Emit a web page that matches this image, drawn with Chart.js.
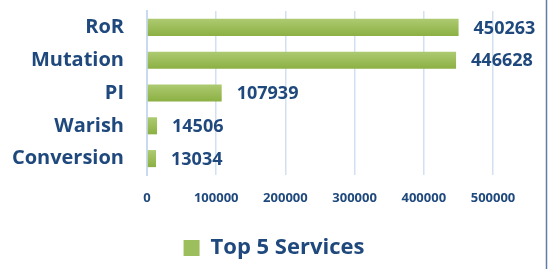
<!DOCTYPE html>
<html>
<head>
<meta charset="utf-8">
<script src="https://cdn.jsdelivr.net/npm/chart.js@4/dist/chart.umd.min.js"></script>
<style>
  html, body { margin: 0; padding: 0; background: #fff; }
  #wrap { position: relative; width: 548px; height: 269px; }
</style>
</head>
<body>
<div id="wrap"><canvas id="myChart" width="548" height="269"></canvas></div>
<script>
  // data
  const services = ['RoR', 'Mutation', 'PI', 'Warish', 'Conversion'];
  const counts = [450263, 446628, 107939, 14506, 13034];
  const seriesName = 'Top 5 Services';
  const axisMax = 500000;
  const axisStep = 100000;

  const navy = '#1F497D';
  const fontName = "'Open Sans', sans-serif";

  function barFill(context) {
    const chart = context.chart;
    if (!chart.chartArea || !chart.scales.y) {
      return '#9BBB59';
    }
    let c = chart.scales.y.getPixelForValue(context.dataIndex);
    let g = chart.ctx.createLinearGradient(0, c - 9, 0, c + 9);
    g.addColorStop(0, '#AECB72');
    g.addColorStop(1, '#8BAF42');
    return g;
  }

  // value labels at the end of each bar
  const valueLabels = {
    id: 'valueLabels',
    afterDatasetsDraw(chart) {
      let ctx = chart.ctx;
      let meta = chart.getDatasetMeta(0);
      ctx.save();
      ctx.font = 'bold 18px ' + fontName;
      ctx.fillStyle = navy;
      ctx.textAlign = 'left';
      ctx.textBaseline = 'middle';
      meta.data.forEach(function(bar, i) {
        ctx.fillText(String(counts[i]), bar.x + 15, bar.y + 1);
      });
      ctx.restore();
    }
  };

  // thin frame line on the right edge
  const frameLine = {
    id: 'frameLine',
    afterDraw(chart) {
      let ctx = chart.ctx;
      ctx.save();
      ctx.strokeStyle = '#5F7EA6';
      ctx.lineWidth = 1.5;
      ctx.beginPath();
      ctx.moveTo(546.5, 0);
      ctx.lineTo(546.5, chart.height);
      ctx.stroke();
      ctx.restore();
    }
  };

  function drawChart() {
    new Chart(document.getElementById('myChart'), {
      type: 'bar',
      data: {
        labels: services,
        datasets: [{
          label: seriesName,
          data: counts,
          backgroundColor: barFill,
          borderWidth: 0,
          categoryPercentage: 1,
          barPercentage: 0.52
        }]
      },
      options: {
        indexAxis: 'y',
        responsive: false,
        animation: false,
        devicePixelRatio: 1,
        layout: { padding: { top: 11, right: 0, bottom: 0, left: 0 } },
        scales: {
          x: {
            min: 0,
            max: axisMax,
            afterFit: function(scale) {
              scale.height = 54;
              scale.paddingLeft = 0;
              scale.paddingRight = 55;
            },
            grid: { color: '#D3E0F2', lineWidth: 1.5, drawTicks: false },
            border: { display: false },
            ticks: {
              stepSize: axisStep,
              padding: 15,
              maxRotation: 0,
              autoSkip: false,
              color: navy,
              font: { family: fontName, size: 13, weight: 'bold' },
              callback: function(v) { return String(v); }
            }
          },
          y: {
            afterFit: function(scale) {
              scale.width = 147;
              scale.paddingTop = 0;
              scale.paddingBottom = 0;
            },
            grid: { display: false, drawTicks: false },
            border: { display: true, color: '#C9DAF0', width: 2 },
            ticks: {
              padding: 23,
              color: navy,
              font: { family: fontName, size: 20, weight: 'bold' }
            }
          }
        },
        plugins: {
          tooltip: { enabled: false },
          legend: {
            position: 'bottom',
            labels: {
              boxWidth: 16,
              boxHeight: 16,
              padding: 8,
              color: navy,
              font: { family: fontName, size: 22, weight: 'bold' },
              generateLabels: function(chart) {
                return [{
                  text: seriesName,
                  fillStyle: '#9DBE5C',
                  strokeStyle: '#9DBE5C',
                  fontColor: navy,
                  lineWidth: 0,
                  datasetIndex: 0
                }];
              }
            }
          }
        }
      },
      plugins: [valueLabels, frameLine]
    });
  }

  // make sure the font is ready before chart.js measures text
  Promise.all([
    document.fonts.load("bold 22px 'Open Sans'"),
    document.fonts.load("bold 13px 'Open Sans'")
  ]).then(drawChart, drawChart);
</script>
</body>
</html>
